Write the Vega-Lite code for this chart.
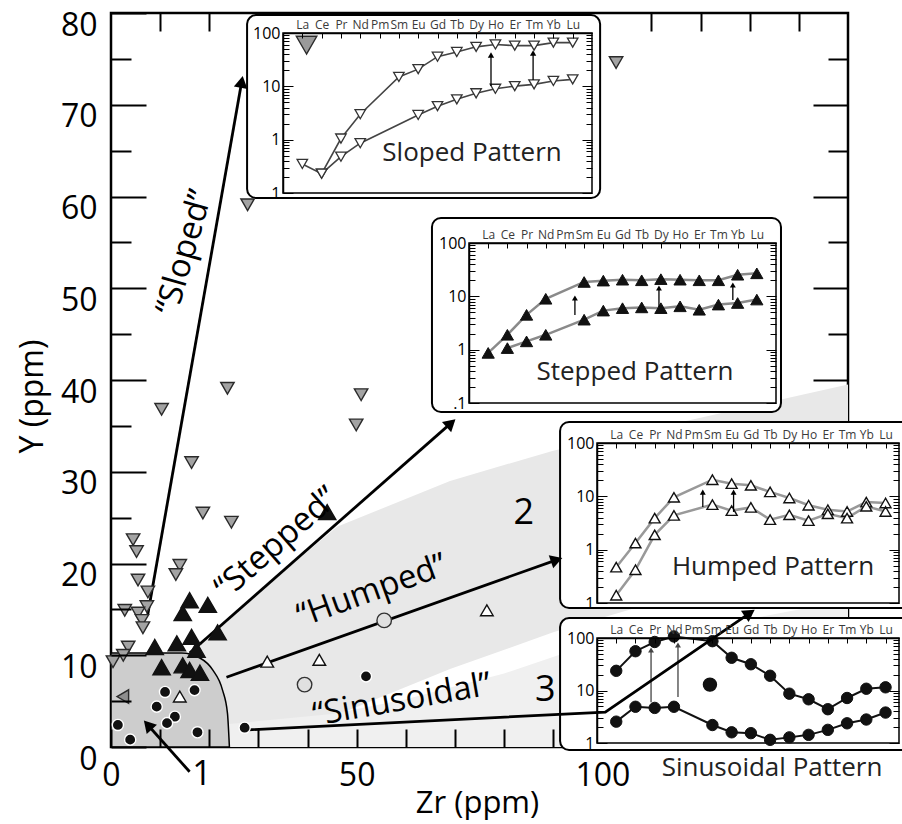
{
"$schema": "https://vega.github.io/schema/vega-lite/v6.json",
"width": 737, "height": 734,
"autosize": {"type": "none"},
"padding": {"left": 111, "top": 13, "right": 54, "bottom": 77},
"background": "white",
"config": {
 "axis": {"grid": false, "labelFont": "Open Sans", "titleFont": "Open Sans", "labelColor": "black", "tickColor": "black", "domainColor": "black", "titleColor": "black", "titleFontWeight": "normal"},
 "view": {"stroke": "black", "strokeWidth": 2.5},
 "text": {"font": "Open Sans"}
},
"datasets": {
 "region1": [{"zr":0,"hi":10.25},{"zr":14.4,"hi":10.25},{"zr":18.1,"hi":9.7},{"zr":20.7,"hi":8.4},{"zr":22.7,"hi":6.2},{"zr":23.7,"hi":3.7},{"zr":24.1,"hi":0}],
 "region2": [{"zr":16,"lo":0,"hi":10.3},{"zr":24.1,"lo":0,"hi":14.0},{"zr":30,"lo":0.5,"hi":16.8},{"zr":46,"lo":3.5,"hi":24},{"zr":69,"lo":8.5,"hi":29},{"zr":90,"lo":12.5,"hi":32.3},{"zr":150,"lo":22,"hi":39.5}],
 "region3": [{"zr":24,"hi":2.5},{"zr":45,"hi":3.6},{"zr":60,"hi":5.2},{"zr":80,"hi":8.0},{"zr":91,"hi":10.0},{"zr":150,"hi":16}],
 "arrows": [
  {"a":"Sloped","o":0,"zr":7.5,"y":14.5},{"a":"Sloped","o":1,"zr":26.6,"y":72.5},
  {"a":"Stepped","o":0,"zr":16.0,"y":10.25},{"a":"Stepped","o":1,"zr":69.2,"y":35.3},
  {"a":"Humped","o":0,"zr":23.5,"y":7.6},{"a":"Humped","o":1,"zr":90.7,"y":20.4},
  {"a":"Sinusoidal","o":0,"zr":27.2,"y":1.85},{"a":"Sinusoidal","o":1,"zr":100.6,"y":3.8},{"a":"Sinusoidal","o":2,"zr":130,"y":14.6},
  {"a":"One","o":0,"zr":16.0,"y":-2.7},{"a":"One","o":1,"zr":7.5,"y":2.4}],
 "heads": [{"a":"Sloped","zr":26.6,"y":72.5},{"a":"Stepped","zr":69.2,"y":35.3},{"a":"Humped","zr":90.7,"y":20.4},{"a":"Sinusoidal","zr":130,"y":14.6},{"a":"One","zr":7.5,"y":2.4}],
 "labels": [{"t":"“Sloped”","zr":15.0,"y":53.9},{"t":"“Stepped”","zr":33.7,"y":22.2},{"t":"“Humped”","zr":53.1,"y":17.0},{"t":"“Sinusoidal”","zr":59.2,"y":5.1},{"t":"2","zr":84.0,"y":25.5},{"t":"3","zr":88.4,"y":6.2},{"t":"1","zr":18.5,"y":-3.05}],
 "pts": [
  {"g":"sloped","zr":27.8,"y":59.1},{"g":"sloped","zr":23.7,"y":39.1},{"g":"sloped","zr":10.3,"y":36.8},{"g":"sloped","zr":16.4,"y":31.0},{"g":"sloped","zr":18.7,"y":25.5},{"g":"sloped","zr":24.5,"y":24.5},{"g":"sloped","zr":4.5,"y":22.6},{"g":"sloped","zr":5.2,"y":21.3},{"g":"sloped","zr":14.0,"y":19.8},{"g":"sloped","zr":13.2,"y":18.8},{"g":"sloped","zr":5.5,"y":18.2},{"g":"sloped","zr":7.5,"y":16.9},{"g":"sloped","zr":7.3,"y":15.3},{"g":"sloped","zr":2.8,"y":14.9},{"g":"sloped","zr":5.5,"y":14.6},{"g":"sloped","zr":6.3,"y":13.8},{"g":"sloped","zr":6.5,"y":13.0},{"g":"sloped","zr":3.5,"y":10.9},{"g":"sloped","zr":2.5,"y":10.0},{"g":"sloped","zr":0.4,"y":9.3},{"g":"sloped","zr":50.9,"y":38.4},{"g":"sloped","zr":49.9,"y":35.1},{"g":"sloped","zr":102.8,"y":74.6},
  {"g":"sloped key","zr":39.8,"y":76.5},
  {"g":"stepped","zr":16.0,"y":16.0},{"g":"stepped","zr":19.7,"y":15.5},{"g":"stepped","zr":14.6,"y":14.6},{"g":"stepped","zr":21.7,"y":12.5},{"g":"stepped","zr":16.4,"y":12.0},{"g":"stepped","zr":13.4,"y":11.3},{"g":"stepped","zr":8.9,"y":10.9},{"g":"stepped","zr":17.4,"y":10.6},{"g":"stepped","zr":10.3,"y":8.7},{"g":"stepped","zr":14.6,"y":8.9},{"g":"stepped","zr":16.0,"y":8.4},{"g":"stepped","zr":18.1,"y":8.1},{"g":"stepped","zr":44.0,"y":25.6},
  {"g":"humped","zr":31.8,"y":9.3},{"g":"humped","zr":42.4,"y":9.5},{"g":"humped","zr":76.5,"y":14.9},{"g":"humped","zr":14.0,"y":5.5},
  {"g":"humped circle","zr":39.4,"y":6.8},{"g":"humped circle","zr":55.6,"y":13.8},
  {"g":"sinusoidal","zr":51.9,"y":7.7},{"g":"sinusoidal","zr":27.2,"y":2.1},{"g":"sinusoidal","zr":11.0,"y":6.0},{"g":"sinusoidal","zr":17.0,"y":6.2},{"g":"sinusoidal","zr":9.3,"y":4.4},{"g":"sinusoidal","zr":13.0,"y":3.3},{"g":"sinusoidal","zr":11.4,"y":2.6},{"g":"sinusoidal","zr":17.6,"y":1.6},{"g":"sinusoidal","zr":1.4,"y":2.4},{"g":"sinusoidal","zr":3.9,"y":0.8},
  {"g":"sinusoidal key","zr":121.9,"y":6.8},
  {"g":"other","zr":2.4,"y":5.5}],
 "ree": [
  {"p":"Sloped","s":"upper","el":1,"v":0.35},{"p":"Sloped","s":"upper","el":2,"v":0.23},{"p":"Sloped","s":"upper","el":3,"v":1.05},{"p":"Sloped","s":"upper","el":4,"v":3.0},{"p":"Sloped","s":"upper","el":6,"v":15},{"p":"Sloped","s":"upper","el":7,"v":21},{"p":"Sloped","s":"upper","el":8,"v":36},{"p":"Sloped","s":"upper","el":9,"v":44},{"p":"Sloped","s":"upper","el":10,"v":55},{"p":"Sloped","s":"upper","el":11,"v":61},{"p":"Sloped","s":"upper","el":12,"v":58},{"p":"Sloped","s":"upper","el":13,"v":58},{"p":"Sloped","s":"upper","el":14,"v":66},{"p":"Sloped","s":"upper","el":15,"v":66},
  {"p":"Sloped","s":"lower","el":2,"v":0.23},{"p":"Sloped","s":"lower","el":3,"v":0.48},{"p":"Sloped","s":"lower","el":4,"v":0.86},{"p":"Sloped","s":"lower","el":7,"v":2.9},{"p":"Sloped","s":"lower","el":8,"v":4.25},{"p":"Sloped","s":"lower","el":9,"v":5.7},{"p":"Sloped","s":"lower","el":10,"v":7.4},{"p":"Sloped","s":"lower","el":11,"v":9.0},{"p":"Sloped","s":"lower","el":12,"v":10.1},{"p":"Sloped","s":"lower","el":13,"v":10.9},{"p":"Sloped","s":"lower","el":14,"v":12.6},{"p":"Sloped","s":"lower","el":15,"v":13.5},
  {"p":"Stepped","s":"upper","el":1,"v":0.87},{"p":"Stepped","s":"upper","el":2,"v":1.9},{"p":"Stepped","s":"upper","el":3,"v":4.5},{"p":"Stepped","s":"upper","el":4,"v":9.0},{"p":"Stepped","s":"upper","el":6,"v":18.6},{"p":"Stepped","s":"upper","el":7,"v":19.7},{"p":"Stepped","s":"upper","el":8,"v":20.5},{"p":"Stepped","s":"upper","el":9,"v":20},{"p":"Stepped","s":"upper","el":10,"v":21},{"p":"Stepped","s":"upper","el":11,"v":20.5},{"p":"Stepped","s":"upper","el":12,"v":20},{"p":"Stepped","s":"upper","el":13,"v":20},{"p":"Stepped","s":"upper","el":14,"v":25.4},{"p":"Stepped","s":"upper","el":15,"v":27},
  {"p":"Stepped","s":"lower","el":2,"v":1.07},{"p":"Stepped","s":"lower","el":3,"v":1.43},{"p":"Stepped","s":"lower","el":4,"v":1.9},{"p":"Stepped","s":"lower","el":6,"v":3.65},{"p":"Stepped","s":"lower","el":7,"v":5.4},{"p":"Stepped","s":"lower","el":8,"v":6.0},{"p":"Stepped","s":"lower","el":9,"v":6.2},{"p":"Stepped","s":"lower","el":10,"v":6.0},{"p":"Stepped","s":"lower","el":11,"v":6.5},{"p":"Stepped","s":"lower","el":12,"v":5.6},{"p":"Stepped","s":"lower","el":13,"v":7.0},{"p":"Stepped","s":"lower","el":14,"v":7.5},{"p":"Stepped","s":"lower","el":15,"v":8.7},
  {"p":"Humped","s":"upper","el":1,"v":0.47},{"p":"Humped","s":"upper","el":2,"v":1.33},{"p":"Humped","s":"upper","el":3,"v":3.9},{"p":"Humped","s":"upper","el":4,"v":9.6},{"p":"Humped","s":"upper","el":6,"v":20.5},{"p":"Humped","s":"upper","el":7,"v":17.3},{"p":"Humped","s":"upper","el":8,"v":16.1},{"p":"Humped","s":"upper","el":9,"v":12.1},{"p":"Humped","s":"upper","el":10,"v":9.3},{"p":"Humped","s":"upper","el":11,"v":6.8},{"p":"Humped","s":"upper","el":12,"v":5.6},{"p":"Humped","s":"upper","el":13,"v":5.2},{"p":"Humped","s":"upper","el":14,"v":7.8},{"p":"Humped","s":"upper","el":15,"v":7.5},
  {"p":"Humped","s":"lower","el":1,"v":0.14},{"p":"Humped","s":"lower","el":2,"v":0.42},{"p":"Humped","s":"lower","el":3,"v":1.9},{"p":"Humped","s":"lower","el":4,"v":4.4},{"p":"Humped","s":"lower","el":6,"v":7.0},{"p":"Humped","s":"lower","el":7,"v":5.4},{"p":"Humped","s":"lower","el":8,"v":6.2},{"p":"Humped","s":"lower","el":9,"v":3.65},{"p":"Humped","s":"lower","el":10,"v":4.5},{"p":"Humped","s":"lower","el":11,"v":3.5},{"p":"Humped","s":"lower","el":12,"v":4.7},{"p":"Humped","s":"lower","el":13,"v":3.9},{"p":"Humped","s":"lower","el":14,"v":6.5},{"p":"Humped","s":"lower","el":15,"v":5.2},
  {"p":"Sinusoidal","s":"upper","el":1,"v":23.7},{"p":"Sinusoidal","s":"upper","el":2,"v":56},{"p":"Sinusoidal","s":"upper","el":3,"v":84},{"p":"Sinusoidal","s":"upper","el":4,"v":107},{"p":"Sinusoidal","s":"upper","el":6,"v":87},{"p":"Sinusoidal","s":"upper","el":7,"v":42},{"p":"Sinusoidal","s":"upper","el":8,"v":31.6},{"p":"Sinusoidal","s":"upper","el":9,"v":19.1},{"p":"Sinusoidal","s":"upper","el":10,"v":8.7},{"p":"Sinusoidal","s":"upper","el":11,"v":6.8},{"p":"Sinusoidal","s":"upper","el":12,"v":4.4},{"p":"Sinusoidal","s":"upper","el":13,"v":7.2},{"p":"Sinusoidal","s":"upper","el":14,"v":10.8},{"p":"Sinusoidal","s":"upper","el":15,"v":11.5},
  {"p":"Sinusoidal","s":"lower","el":1,"v":2.55},{"p":"Sinusoidal","s":"lower","el":2,"v":4.9},{"p":"Sinusoidal","s":"lower","el":3,"v":4.66},{"p":"Sinusoidal","s":"lower","el":4,"v":4.9},{"p":"Sinusoidal","s":"lower","el":6,"v":2.2},{"p":"Sinusoidal","s":"lower","el":7,"v":1.6},{"p":"Sinusoidal","s":"lower","el":8,"v":1.54},{"p":"Sinusoidal","s":"lower","el":9,"v":1.15},{"p":"Sinusoidal","s":"lower","el":10,"v":1.28},{"p":"Sinusoidal","s":"lower","el":11,"v":1.43},{"p":"Sinusoidal","s":"lower","el":12,"v":1.78},{"p":"Sinusoidal","s":"lower","el":13,"v":2.37},{"p":"Sinusoidal","s":"lower","el":14,"v":2.8},{"p":"Sinusoidal","s":"lower","el":15,"v":3.8}],
 "reeArrows": [
  {"p":"Sloped","el":10.77,"from":10.1,"to":38.7},{"p":"Sloped","el":12.95,"from":13.2,"to":42},
  {"p":"Stepped","el":5.52,"from":4.47,"to":9.3},{"p":"Stepped","el":9.9,"from":6.3,"to":14.3},{"p":"Stepped","el":13.75,"from":8.5,"to":16.3},
  {"p":"Humped","el":5.5,"from":6.3,"to":12},{"p":"Humped","el":7.1,"from":5.1,"to":12},
  {"p":"Sinusoidal","el":2.81,"from":6.0,"to":59},{"p":"Sinusoidal","el":4.21,"from":7.5,"to":73.6}]
},
"layer": [
 {
  "layer": [
   {"data": {"name": "region2"}, "mark": {"type": "area", "fill": "#e8e8e8"},
    "encoding": {
     "x": {"field": "zr", "type": "quantitative", "scale": {"domain": [0,150], "nice": false, "zero": false},
      "axis": {"orient": "bottom", "values": [0,10,20,30,40,50,60,70,80,90,100], "labelExpr": "datum.value % 50 === 0 ? datum.label : ''", "tickSize": -18, "tickWidth": 2, "tickOpacity": {"condition": {"test": "datum.value === 100", "value": 0}, "value": 1}, "domain": false, "labelFontSize": 32, "labelPadding": 31, "labelFlush": false, "labelOverlap": false, "labelBound": false, "title": "Zr (ppm)", "titleFontSize": 31, "titleX": 366, "titleY": 56, "titleAlign": "center", "titleBaseline": "middle", "zindex": 1}},
     "y": {"field": "hi", "type": "quantitative", "scale": {"domain": [0,80], "nice": false, "zero": false},
      "axis": {"orient": "left", "values": [0,5,10,15,20,25,30,35,40,45,50,55,60,65,70,75,80], "labelExpr": "datum.value % 10 === 0 ? datum.label : ''", "tickSize": {"condition": {"test": "datum.value % 10 === 0", "value": -35}, "value": -20}, "tickWidth": 2, "domain": false, "labelFontSize": 32, "labelPadding": 49, "labelOffset": 12, "labelBound": false, "labelFlush": false, "labelOverlap": false, "title": "Y (ppm)", "titleFontSize": 32, "titleAngle": -90, "titleX": -79, "titleY": 383, "titleAlign": "center", "titleBaseline": "middle", "zindex": 1}},
     "y2": {"field": "lo"}
    }},
   {"data": {"name": "region3"}, "mark": {"type": "area", "fill": "#f0f0f0"},
    "encoding": {
     "x": {"field": "zr", "type": "quantitative", "scale": {"domain": [0,150], "nice": false, "zero": false}, "axis": null},
     "y": {"field": "hi", "type": "quantitative", "scale": {"domain": [0,80], "nice": false, "zero": false}, "axis": null}
    }},
   {"data": {"name": "region1"}, "mark": {"type": "area", "fill": "#cdcdcd", "stroke": "black", "strokeWidth": 1.5, "interpolate": "monotone"},
    "encoding": {
     "x": {"field": "zr", "type": "quantitative", "scale": {"domain": [0,150], "nice": false, "zero": false},
      "axis": {"orient": "top", "values": [10,20,110,120,130,140], "labels": false, "tickSize": -18, "tickWidth": 2, "domain": false, "title": null, "zindex": 1}},
     "y": {"field": "hi", "type": "quantitative", "scale": {"domain": [0,80], "nice": false, "zero": false},
      "axis": {"orient": "right", "values": [40,45,50,55,60,65,70,75], "labels": false, "tickSize": {"condition": {"test": "datum.value % 10 === 0", "value": -35}, "value": -20}, "tickWidth": 2, "domain": false, "title": null, "zindex": 1}}
    }}
  ],
  "resolve": {"axis": {"x": "independent", "y": "independent"}}
 },
 {
  "layer": [
   {"data": {"values": [{}]}, "mark": {"type": "rect", "fill": "white", "stroke": "black", "strokeWidth": 2, "cornerRadius": 9},
    "encoding": {"x": {"datum": -1.86, "type": "quantitative", "scale": {"domain": [0,16], "range": [172,481], "nice": false, "zero": false}, "axis": null}, "x2": {"datum": 16.42},
     "y": {"datum": 217, "type": "quantitative", "scale": {"type": "log", "domain": [0.1,100], "range": [180,20], "nice": false}, "axis": null}, "y2": {"datum": 0.0805}}},
   {"data": {"values": [{}]}, "mark": {"type": "rect", "filled": false, "stroke": "black", "strokeWidth": 1.5},
    "encoding": {"x": {"datum": 0, "type": "quantitative", "scale": {"domain": [0,16], "range": [172,481], "nice": false, "zero": false}, "axis": null}, "x2": {"datum": 16},
     "y": {"datum": 0.1, "type": "quantitative", "scale": {"type": "log", "domain": [0.1,100], "range": [180,20], "nice": false}, "axis": null}, "y2": {"datum": 100}}},
   {"data": {"name": "ree"}, "transform": [{"filter": "datum.p === 'Sloped'"}], "mark": {"type": "line", "stroke": "#444444", "strokeWidth": 1.6},
    "encoding": {
     "x": {"field": "el", "type": "quantitative", "scale": {"domain": [0,16], "range": [172,481], "nice": false, "zero": false},
      "axis": {"orient": "top", "offset": -20, "values": [1,2,3,4,5,6,7,8,9,10,11,12,13,14,15], "labelExpr": "['','La','Ce','Pr','Nd','Pm','Sm','Eu','Gd','Tb','Dy','Ho','Er','Tm','Yb','Lu'][datum.value]", "tickSize": -5, "tickWidth": 1, "domain": true, "domainWidth": 1.5, "labelFontSize": 12, "labelColor": "#3a3a3a", "labelPadding": 7, "labelFlush": false, "labelOverlap": false, "labelBound": false, "title": null, "zindex": 2}},
     "y": {"field": "v", "type": "quantitative", "scale": {"type": "log", "domain": [0.1,100], "range": [180,20], "nice": false},
      "axis": {"orient": "left", "offset": -172, "values": [0.1,0.2,0.3,0.4,0.5,0.6,0.7,0.8,0.9,1,2,3,4,5,6,7,8,9,10,20,30,40,50,60,70,80,90,100], "labelExpr": "datum.value === 100 ? '100' : datum.value === 10 ? '10' : datum.value === 1 ? '1' : datum.value === 0.1 ? '.1' : ''", "tickSize": {"condition": {"test": "datum.value === 0.1 || datum.value === 1 || datum.value === 10 || datum.value === 100", "value": -10}, "value": -6}, "tickWidth": 1, "domain": true, "domainWidth": 1.5, "labelFontSize": 16, "labelPadding": 13, "labelFlush": false, "labelOverlap": false, "labelBound": false, "title": null, "zindex": 2}},
     "detail": {"field": "s"}
    }},
   {"data": {"name": "ree"}, "transform": [{"filter": "datum.p === 'Sloped'"}], "mark": {"type": "point", "shape": "triangle-down", "filled": true, "fill": "white", "stroke": "#333333", "strokeWidth": 1.3, "size": 110, "opacity": 1},
    "encoding": {
     "x": {"field": "el", "type": "quantitative", "scale": {"domain": [0,16], "range": [172,481], "nice": false, "zero": false}, "axis": null},
     "y": {"field": "v", "type": "quantitative", "scale": {"type": "log", "domain": [0.1,100], "range": [180,20], "nice": false},
      "axis": {"orient": "right", "offset": -256, "values": [0.1,0.2,0.3,0.4,0.5,0.6,0.7,0.8,0.9,1,2,3,4,5,6,7,8,9,10,20,30,40,50,60,70,80,90,100], "labels": false, "tickSize": {"condition": {"test": "datum.value === 0.1 || datum.value === 1 || datum.value === 10 || datum.value === 100", "value": -10}, "value": -6}, "tickWidth": 1, "domain": false, "title": null, "zindex": 2}}
    }},
   {"data": {"name": "reeArrows"}, "transform": [{"filter": "datum.p === 'Sloped'"}], "mark": {"type": "rule", "stroke": "black", "strokeWidth": 1.3},
    "encoding": {
     "x": {"field": "el", "type": "quantitative", "scale": {"domain": [0,16], "range": [172,481], "nice": false, "zero": false}, "axis": null},
     "y": {"field": "from", "type": "quantitative", "scale": {"type": "log", "domain": [0.1,100], "range": [180,20], "nice": false}, "axis": null},
     "y2": {"field": "to"}}},
   {"data": {"name": "reeArrows"}, "transform": [{"filter": "datum.p === 'Sloped'"}], "mark": {"type": "point", "shape": "triangle-up", "filled": true, "color": "black", "size": 40, "opacity": 1},
    "encoding": {
     "x": {"field": "el", "type": "quantitative", "scale": {"domain": [0,16], "range": [172,481], "nice": false, "zero": false}, "axis": null},
     "y": {"field": "to", "type": "quantitative", "scale": {"type": "log", "domain": [0.1,100], "range": [180,20], "nice": false}, "axis": null}}},
   {"data": {"values": [{}]}, "mark": {"type": "text", "text": "Sloped Pattern", "fontSize": 26, "font": "Open Sans", "align": "center", "baseline": "middle", "color": "#222222"},
    "encoding": {
     "x": {"datum": 9.79, "type": "quantitative", "scale": {"domain": [0,16], "range": [172,481], "nice": false, "zero": false}, "axis": null},
     "y": {"datum": 0.562, "type": "quantitative", "scale": {"type": "log", "domain": [0.1,100], "range": [180,20], "nice": false}, "axis": null}}}
  ],
  "resolve": {"axis": {"x": "independent", "y": "independent"}}
 },
 {
  "layer": [
   {"data": {"values": [{}]}, "mark": {"type": "rect", "fill": "white", "stroke": "black", "strokeWidth": 2, "cornerRadius": 9},
    "encoding": {"x": {"datum": -1.93, "type": "quantitative", "scale": {"domain": [0,16], "range": [358,665], "nice": false, "zero": false}, "axis": null}, "x2": {"datum": 16.26},
     "y": {"datum": 294, "type": "quantitative", "scale": {"type": "log", "domain": [0.1,100], "range": [390,230], "nice": false}, "axis": null}, "y2": {"datum": 0.0678}}},
   {"data": {"values": [{}]}, "mark": {"type": "rect", "filled": false, "stroke": "black", "strokeWidth": 1.5},
    "encoding": {"x": {"datum": 0, "type": "quantitative", "scale": {"domain": [0,16], "range": [358,665], "nice": false, "zero": false}, "axis": null}, "x2": {"datum": 16},
     "y": {"datum": 0.1, "type": "quantitative", "scale": {"type": "log", "domain": [0.1,100], "range": [390,230], "nice": false}, "axis": null}, "y2": {"datum": 100}}},
   {"data": {"name": "ree"}, "transform": [{"filter": "datum.p === 'Stepped'"}], "mark": {"type": "line", "stroke": "#8a8a8a", "strokeWidth": 2.5},
    "encoding": {
     "x": {"field": "el", "type": "quantitative", "scale": {"domain": [0,16], "range": [358,665], "nice": false, "zero": false},
      "axis": {"orient": "top", "offset": -230, "values": [1,2,3,4,5,6,7,8,9,10,11,12,13,14,15], "labelExpr": "['','La','Ce','Pr','Nd','Pm','Sm','Eu','Gd','Tb','Dy','Ho','Er','Tm','Yb','Lu'][datum.value]", "tickSize": -5, "tickWidth": 1, "domain": true, "domainWidth": 1.5, "labelFontSize": 12, "labelColor": "#3a3a3a", "labelPadding": 7, "labelFlush": false, "labelOverlap": false, "labelBound": false, "title": null, "zindex": 2}},
     "y": {"field": "v", "type": "quantitative", "scale": {"type": "log", "domain": [0.1,100], "range": [390,230], "nice": false},
      "axis": {"orient": "left", "offset": -358, "values": [0.1,0.2,0.3,0.4,0.5,0.6,0.7,0.8,0.9,1,2,3,4,5,6,7,8,9,10,20,30,40,50,60,70,80,90,100], "labelExpr": "datum.value === 100 ? '100' : datum.value === 10 ? '10' : datum.value === 1 ? '1' : datum.value === 0.1 ? '.1' : ''", "tickSize": {"condition": {"test": "datum.value === 0.1 || datum.value === 1 || datum.value === 10 || datum.value === 100", "value": -10}, "value": -6}, "tickWidth": 1, "domain": true, "domainWidth": 1.5, "labelFontSize": 16, "labelPadding": 13, "labelFlush": false, "labelOverlap": false, "labelBound": false, "title": null, "zindex": 2}},
     "detail": {"field": "s"}
    }},
   {"data": {"name": "ree"}, "transform": [{"filter": "datum.p === 'Stepped'"}], "mark": {"type": "point", "shape": "triangle-up", "filled": true, "fill": "#111111", "stroke": "#111111", "strokeWidth": 1, "size": 150, "opacity": 1},
    "encoding": {
     "x": {"field": "el", "type": "quantitative", "scale": {"domain": [0,16], "range": [358,665], "nice": false, "zero": false}, "axis": null},
     "y": {"field": "v", "type": "quantitative", "scale": {"type": "log", "domain": [0.1,100], "range": [390,230], "nice": false},
      "axis": {"orient": "right", "offset": -72, "values": [0.1,0.2,0.3,0.4,0.5,0.6,0.7,0.8,0.9,1,2,3,4,5,6,7,8,9,10,20,30,40,50,60,70,80,90,100], "labels": false, "tickSize": {"condition": {"test": "datum.value === 0.1 || datum.value === 1 || datum.value === 10 || datum.value === 100", "value": -10}, "value": -6}, "tickWidth": 1, "domain": false, "title": null, "zindex": 2}}
    }},
   {"data": {"name": "reeArrows"}, "transform": [{"filter": "datum.p === 'Stepped'"}], "mark": {"type": "rule", "stroke": "black", "strokeWidth": 1.3},
    "encoding": {
     "x": {"field": "el", "type": "quantitative", "scale": {"domain": [0,16], "range": [358,665], "nice": false, "zero": false}, "axis": null},
     "y": {"field": "from", "type": "quantitative", "scale": {"type": "log", "domain": [0.1,100], "range": [390,230], "nice": false}, "axis": null},
     "y2": {"field": "to"}}},
   {"data": {"name": "reeArrows"}, "transform": [{"filter": "datum.p === 'Stepped'"}], "mark": {"type": "point", "shape": "triangle-up", "filled": true, "color": "black", "size": 35, "opacity": 1},
    "encoding": {
     "x": {"field": "el", "type": "quantitative", "scale": {"domain": [0,16], "range": [358,665], "nice": false, "zero": false}, "axis": null},
     "y": {"field": "to", "type": "quantitative", "scale": {"type": "log", "domain": [0.1,100], "range": [390,230], "nice": false}, "axis": null}}},
   {"data": {"values": [{}]}, "mark": {"type": "text", "text": "Stepped Pattern", "fontSize": 26, "font": "Open Sans", "align": "center", "baseline": "middle", "color": "#222222"},
    "encoding": {
     "x": {"datum": 8.65, "type": "quantitative", "scale": {"domain": [0,16], "range": [358,665], "nice": false, "zero": false}, "axis": null},
     "y": {"datum": 0.386, "type": "quantitative", "scale": {"type": "log", "domain": [0.1,100], "range": [390,230], "nice": false}, "axis": null}}}
  ],
  "resolve": {"axis": {"x": "independent", "y": "independent"}}
 },
 {
  "layer": [
   {"data": {"values": [{}]}, "mark": {"type": "rect", "fill": "white", "stroke": "black", "strokeWidth": 2, "cornerRadius": 9},
    "encoding": {"x": {"datum": -1.92, "type": "quantitative", "scale": {"domain": [0,15.7], "range": [486,788], "nice": false, "zero": false}, "axis": null}, "x2": {"datum": 16.5},
     "y": {"datum": 248, "type": "quantitative", "scale": {"type": "log", "domain": [0.1,100], "range": [590,430], "nice": false}, "axis": null}, "y2": {"datum": 0.0805}}},
   {"data": {"values": [{}]}, "mark": {"type": "rect", "filled": false, "stroke": "black", "strokeWidth": 1.5},
    "encoding": {"x": {"datum": 0, "type": "quantitative", "scale": {"domain": [0,15.7], "range": [486,788], "nice": false, "zero": false}, "axis": null}, "x2": {"datum": 15.7},
     "y": {"datum": 0.1, "type": "quantitative", "scale": {"type": "log", "domain": [0.1,100], "range": [590,430], "nice": false}, "axis": null}, "y2": {"datum": 100}}},
   {"data": {"name": "ree"}, "transform": [{"filter": "datum.p === 'Humped'"}], "mark": {"type": "line", "stroke": "#999999", "strokeWidth": 2.5},
    "encoding": {
     "x": {"field": "el", "type": "quantitative", "scale": {"domain": [0,15.7], "range": [486,788], "nice": false, "zero": false},
      "axis": {"orient": "top", "offset": -430, "values": [1,2,3,4,5,6,7,8,9,10,11,12,13,14,15], "labelExpr": "['','La','Ce','Pr','Nd','Pm','Sm','Eu','Gd','Tb','Dy','Ho','Er','Tm','Yb','Lu'][datum.value]", "tickSize": -5, "tickWidth": 1, "domain": true, "domainWidth": 1.5, "labelFontSize": 12, "labelColor": "#3a3a3a", "labelPadding": 7, "labelFlush": false, "labelOverlap": false, "labelBound": false, "title": null, "zindex": 2}},
     "y": {"field": "v", "type": "quantitative", "scale": {"type": "log", "domain": [0.1,100], "range": [590,430], "nice": false},
      "axis": {"orient": "left", "offset": -486, "values": [0.1,0.2,0.3,0.4,0.5,0.6,0.7,0.8,0.9,1,2,3,4,5,6,7,8,9,10,20,30,40,50,60,70,80,90,100], "labelExpr": "datum.value === 100 ? '100' : datum.value === 10 ? '10' : datum.value === 1 ? '1' : datum.value === 0.1 ? '.1' : ''", "tickSize": {"condition": {"test": "datum.value === 0.1 || datum.value === 1 || datum.value === 10 || datum.value === 100", "value": -10}, "value": -6}, "tickWidth": 1, "domain": true, "domainWidth": 1.5, "labelFontSize": 16, "labelPadding": 13, "labelFlush": false, "labelOverlap": false, "labelBound": false, "title": null, "zindex": 2}},
     "detail": {"field": "s"}
    }},
   {"data": {"name": "ree"}, "transform": [{"filter": "datum.p === 'Humped'"}], "mark": {"type": "point", "shape": "triangle-up", "filled": true, "fill": "white", "stroke": "#111111", "strokeWidth": 1.4, "size": 120, "opacity": 1},
    "encoding": {
     "x": {"field": "el", "type": "quantitative", "scale": {"domain": [0,15.7], "range": [486,788], "nice": false, "zero": false}, "axis": null},
     "y": {"field": "v", "type": "quantitative", "scale": {"type": "log", "domain": [0.1,100], "range": [590,430], "nice": false},
      "axis": {"orient": "right", "offset": 51, "values": [0.1,0.2,0.3,0.4,0.5,0.6,0.7,0.8,0.9,1,2,3,4,5,6,7,8,9,10,20,30,40,50,60,70,80,90,100], "labels": false, "tickSize": {"condition": {"test": "datum.value === 0.1 || datum.value === 1 || datum.value === 10 || datum.value === 100", "value": -10}, "value": -6}, "tickWidth": 1, "domain": false, "title": null, "zindex": 2}}
    }},
   {"data": {"name": "reeArrows"}, "transform": [{"filter": "datum.p === 'Humped'"}], "mark": {"type": "rule", "stroke": "black", "strokeWidth": 1.3},
    "encoding": {
     "x": {"field": "el", "type": "quantitative", "scale": {"domain": [0,15.7], "range": [486,788], "nice": false, "zero": false}, "axis": null},
     "y": {"field": "from", "type": "quantitative", "scale": {"type": "log", "domain": [0.1,100], "range": [590,430], "nice": false}, "axis": null},
     "y2": {"field": "to"}}},
   {"data": {"name": "reeArrows"}, "transform": [{"filter": "datum.p === 'Humped'"}], "mark": {"type": "point", "shape": "triangle-up", "filled": true, "color": "black", "size": 35, "opacity": 1},
    "encoding": {
     "x": {"field": "el", "type": "quantitative", "scale": {"domain": [0,15.7], "range": [486,788], "nice": false, "zero": false}, "axis": null},
     "y": {"field": "to", "type": "quantitative", "scale": {"type": "log", "domain": [0.1,100], "range": [590,430], "nice": false}, "axis": null}}},
   {"data": {"values": [{}]}, "mark": {"type": "text", "text": "Humped Pattern", "fontSize": 26, "font": "Open Sans", "align": "center", "baseline": "middle", "color": "#222222"},
    "encoding": {
     "x": {"datum": 9.15, "type": "quantitative", "scale": {"domain": [0,15.7], "range": [486,788], "nice": false, "zero": false}, "axis": null},
     "y": {"datum": 0.473, "type": "quantitative", "scale": {"type": "log", "domain": [0.1,100], "range": [590,430], "nice": false}, "axis": null}}}
  ],
  "resolve": {"axis": {"x": "independent", "y": "independent"}}
 },
 {
  "layer": [
   {"data": {"values": [{}]}, "mark": {"type": "rect", "fill": "white", "stroke": "black", "strokeWidth": 2, "cornerRadius": 9},
    "encoding": {"x": {"datum": -1.92, "type": "quantitative", "scale": {"domain": [0,15.7], "range": [486,788], "nice": false, "zero": false}, "axis": null}, "x2": {"datum": 16.5},
     "y": {"datum": 240, "type": "quantitative", "scale": {"type": "log", "domain": [1,100], "range": [730,625], "nice": false}, "axis": null}, "y2": {"datum": 0.736}}},
   {"data": {"values": [{}]}, "mark": {"type": "rect", "filled": false, "stroke": "black", "strokeWidth": 1.5},
    "encoding": {"x": {"datum": 0, "type": "quantitative", "scale": {"domain": [0,15.7], "range": [486,788], "nice": false, "zero": false}, "axis": null}, "x2": {"datum": 15.7},
     "y": {"datum": 1, "type": "quantitative", "scale": {"type": "log", "domain": [1,100], "range": [730,625], "nice": false}, "axis": null}, "y2": {"datum": 100}}},
   {"data": {"name": "ree"}, "transform": [{"filter": "datum.p === 'Sinusoidal'"}], "mark": {"type": "line", "stroke": "#111111", "strokeWidth": 2},
    "encoding": {
     "x": {"field": "el", "type": "quantitative", "scale": {"domain": [0,15.7], "range": [486,788], "nice": false, "zero": false},
      "axis": {"orient": "top", "offset": -625, "values": [1,2,3,4,5,6,7,8,9,10,11,12,13,14,15], "labelExpr": "['','La','Ce','Pr','Nd','Pm','Sm','Eu','Gd','Tb','Dy','Ho','Er','Tm','Yb','Lu'][datum.value]", "tickSize": -5, "tickWidth": 1, "domain": true, "domainWidth": 1.5, "labelFontSize": 12, "labelColor": "#3a3a3a", "labelPadding": 7, "labelFlush": false, "labelOverlap": false, "labelBound": false, "title": null, "zindex": 2}},
     "y": {"field": "v", "type": "quantitative", "scale": {"type": "log", "domain": [1,100], "range": [730,625], "nice": false},
      "axis": {"orient": "left", "offset": -486, "values": [1,2,3,4,5,6,7,8,9,10,20,30,40,50,60,70,80,90,100], "labelExpr": "datum.value === 100 ? '100' : datum.value === 10 ? '10' : datum.value === 1 ? '1' : ''", "tickSize": {"condition": {"test": "datum.value === 1 || datum.value === 10 || datum.value === 100", "value": -10}, "value": -6}, "tickWidth": 1, "domain": true, "domainWidth": 1.5, "labelFontSize": 16, "labelPadding": 13, "labelFlush": false, "labelOverlap": false, "labelBound": false, "title": null, "zindex": 2}},
     "detail": {"field": "s"}
    }},
   {"data": {"name": "ree"}, "transform": [{"filter": "datum.p === 'Sinusoidal'"}], "mark": {"type": "point", "shape": "circle", "filled": true, "fill": "#111111", "stroke": "#111111", "strokeWidth": 1, "size": 130, "opacity": 1},
    "encoding": {
     "x": {"field": "el", "type": "quantitative", "scale": {"domain": [0,15.7], "range": [486,788], "nice": false, "zero": false}, "axis": null},
     "y": {"field": "v", "type": "quantitative", "scale": {"type": "log", "domain": [1,100], "range": [730,625], "nice": false},
      "axis": {"orient": "right", "offset": 51, "values": [1,2,3,4,5,6,7,8,9,10,20,30,40,50,60,70,80,90,100], "labels": false, "tickSize": {"condition": {"test": "datum.value === 1 || datum.value === 10 || datum.value === 100", "value": -10}, "value": -6}, "tickWidth": 1, "domain": false, "title": null, "zindex": 2}}
    }},
   {"data": {"name": "reeArrows"}, "transform": [{"filter": "datum.p === 'Sinusoidal'"}], "mark": {"type": "rule", "stroke": "#444444", "strokeWidth": 1.3},
    "encoding": {
     "x": {"field": "el", "type": "quantitative", "scale": {"domain": [0,15.7], "range": [486,788], "nice": false, "zero": false}, "axis": null},
     "y": {"field": "from", "type": "quantitative", "scale": {"type": "log", "domain": [1,100], "range": [730,625], "nice": false}, "axis": null},
     "y2": {"field": "to"}}},
   {"data": {"name": "reeArrows"}, "transform": [{"filter": "datum.p === 'Sinusoidal'"}], "mark": {"type": "point", "shape": "triangle-up", "filled": true, "color": "#444444", "size": 35, "opacity": 1},
    "encoding": {
     "x": {"field": "el", "type": "quantitative", "scale": {"domain": [0,15.7], "range": [486,788], "nice": false, "zero": false}, "axis": null},
     "y": {"field": "to", "type": "quantitative", "scale": {"type": "log", "domain": [1,100], "range": [730,625], "nice": false}, "axis": null}}},
   {"data": {"values": [{}]}, "mark": {"type": "text", "text": "Sinusoidal Pattern", "fontSize": 26, "font": "Open Sans", "align": "center", "baseline": "middle", "color": "#222222"},
    "encoding": {
     "x": {"datum": 9.1, "type": "quantitative", "scale": {"domain": [0,15.7], "range": [486,788], "nice": false, "zero": false}, "axis": null},
     "y": {"datum": 0.334, "type": "quantitative", "scale": {"type": "log", "domain": [1,100], "range": [730,625], "nice": false}, "axis": null}}}
  ],
  "resolve": {"axis": {"x": "independent", "y": "independent"}}
 },
 {
  "layer": [
   {"data": {"name": "arrows"}, "mark": {"type": "line", "stroke": "black", "strokeWidth": 2.8},
    "encoding": {
     "x": {"field": "zr", "type": "quantitative", "scale": {"domain": [0,150], "nice": false, "zero": false}, "axis": null},
     "y": {"field": "y", "type": "quantitative", "scale": {"domain": [0,80], "nice": false, "zero": false}, "axis": null},
     "detail": {"field": "a"}, "order": {"field": "o"}}},
   {"data": {"name": "heads"}, "mark": {"type": "point", "shape": "triangle-up", "filled": true, "color": "black", "size": 190, "opacity": 1},
    "encoding": {
     "x": {"field": "zr", "type": "quantitative", "scale": {"domain": [0,150], "nice": false, "zero": false}, "axis": null},
     "y": {"field": "y", "type": "quantitative", "scale": {"domain": [0,80], "nice": false, "zero": false}, "axis": null},
     "angle": {"field": "a", "type": "nominal", "scale": {"type": "ordinal", "domain": ["Sloped","Stepped","Humped","Sinusoidal","One"], "range": [10,48,71,56,318]}, "legend": null}}},
   {"data": {"name": "pts"}, "mark": {"type": "point", "filled": true, "strokeWidth": 1.4, "opacity": 1},
    "encoding": {
     "x": {"field": "zr", "type": "quantitative", "scale": {"domain": [0,150], "nice": false, "zero": false}, "axis": null},
     "y": {"field": "y", "type": "quantitative", "scale": {"domain": [0,80], "nice": false, "zero": false}, "axis": null},
     "shape": {"field": "g", "type": "nominal", "scale": {"domain": ["sloped","sloped key","stepped","humped","humped circle","sinusoidal","sinusoidal key","other"], "range": ["triangle-down","triangle-down","triangle-up","triangle-up","circle","circle","circle","triangle-left"]}, "legend": null},
     "fill": {"field": "g", "type": "nominal", "scale": {"domain": ["sloped","sloped key","stepped","humped","humped circle","sinusoidal","sinusoidal key","other"], "range": ["#a3a3a3","#9a9a9a","#111111","#ffffff","#e0e0e0","#111111","#111111","#8e8e8e"]}, "legend": null},
     "stroke": {"field": "g", "type": "nominal", "scale": {"domain": ["sloped","sloped key","stepped","humped","humped circle","sinusoidal","sinusoidal key","other"], "range": ["#2a2a2a","#2a2a2a","#111111","#111111","#333333","#ffffff","#111111","#2a2a2a"]}, "legend": null},
     "size": {"field": "g", "type": "nominal", "scale": {"type": "ordinal", "domain": ["sloped","sloped key","stepped","humped","humped circle","sinusoidal","sinusoidal key","other"], "range": [180,420,300,160,210,125,170,180]}, "legend": null}
    }},
   {"data": {"name": "labels"}, "mark": {"type": "text", "font": "Open Sans", "align": "center", "baseline": "middle", "color": "black"},
    "encoding": {
     "x": {"field": "zr", "type": "quantitative", "scale": {"domain": [0,150], "nice": false, "zero": false}, "axis": null},
     "y": {"field": "y", "type": "quantitative", "scale": {"domain": [0,80], "nice": false, "zero": false}, "axis": null},
     "text": {"field": "t"},
     "angle": {"field": "t", "type": "nominal", "scale": {"type": "ordinal", "domain": ["“Sloped”","“Stepped”","“Humped”","“Sinusoidal”","2","3","1"], "range": [286,319,340,350,0,0,0]}, "legend": null},
     "size": {"field": "t", "type": "nominal", "scale": {"type": "ordinal", "domain": ["“Sloped”","“Stepped”","“Humped”","“Sinusoidal”","2","3","1"], "range": [33,33,33,33,36,36,34]}, "legend": null}
    }}
  ],
  "resolve": {"scale": {"size": "independent", "angle": "independent"}}
 }
],
"resolve": {"scale": {"x": "independent", "y": "independent"}, "axis": {"x": "independent", "y": "independent"}}
}
